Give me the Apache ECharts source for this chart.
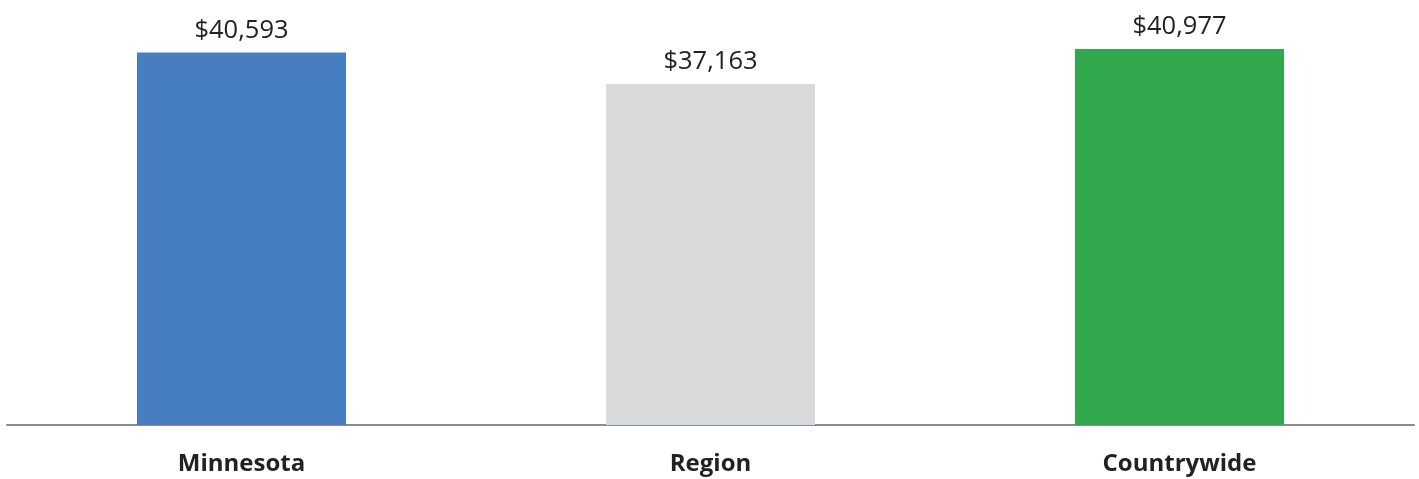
<!DOCTYPE html>
<html>
<head>
<meta charset="utf-8">
<script src="https://cdn.jsdelivr.net/npm/echarts@6/dist/echarts.min.js"></script>
<style>
  html, body { margin: 0; padding: 0; background: #fff; }
  #chart { width: 1419px; height: 479px; }
</style>
</head>
<body>
<div id="chart"></div>
<script>
  // values
  const categories = ['Minnesota', 'Region', 'Countrywide']
  const values = [40593, 37163, 40977]
  const barColors = ['#467EC1', '#D8D9DB', '#31A84B']

  const chart = echarts.init(document.getElementById('chart'))
  const fontFamily = '"Open Sans", "Liberation Sans", sans-serif'

  chart.setOption({
    animation: false,
    grid: { left: 7, right: 5, top: 12, bottom: 54, containLabel: false },
    xAxis: {
      type: 'category',
      data: categories,
      axisTick: { show: false },
      axisLine: { lineStyle: { color: '#8c8c8c', width: 2 } },
      axisLabel: {
        margin: 27,
        fontFamily: fontFamily,
        fontSize: 24,
        fontWeight: 'bold',
        color: '#222'
      }
    },
    yAxis: {
      type: 'value',
      min: 0,
      max: 45000,
      show: false,
      splitLine: { show: false }
    },
    series: [{
      type: 'bar',
      barWidth: 209,
      data: values.map((v, i) => ({ value: v, itemStyle: { color: barColors[i] } })),
      label: {
        show: true,
        position: 'top',
        distance: 9,
        fontFamily: fontFamily,
        fontSize: 25.5,
        color: '#222',
        formatter: p => '$' + p.value.toLocaleString('en-US')
      }
    }]
  })
</script>
</body>
</html>
